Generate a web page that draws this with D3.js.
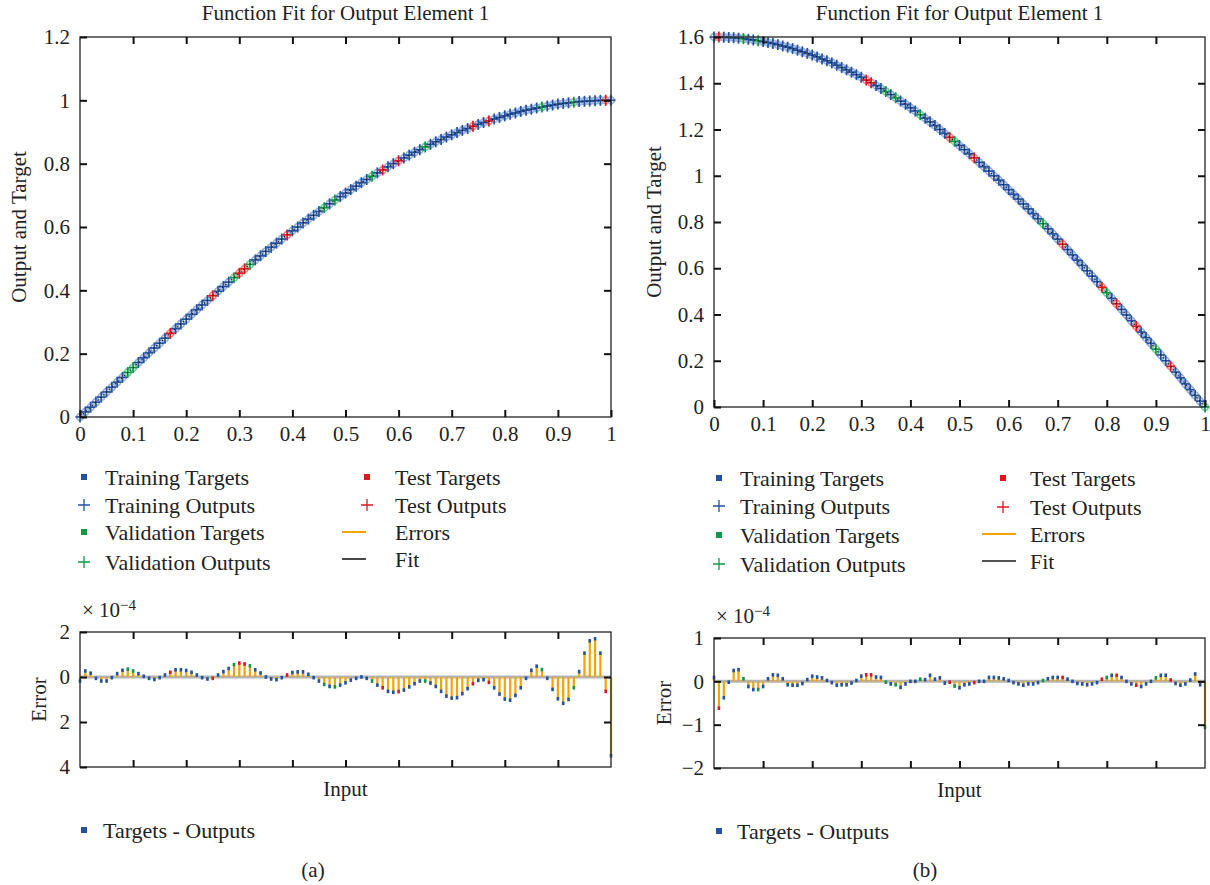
<!DOCTYPE html>
<html>
<head>
<meta charset="utf-8">
<title>Function Fit for Output Element 1</title>
<style>
    body { margin: 0; background: #fff; }
    svg text { font-family: "Liberation Serif", "DejaVu Serif", serif; fill: #222; }
    .tick line { stroke: #111; stroke-width: 2px; }
    .box { fill: none; stroke: #333; stroke-width: 1.4px; }
</style>
</head>
<body>
<svg id="chart" width="1210" height="885"></svg>
<script src="https://cdnjs.cloudflare.com/ajax/libs/d3/7.8.5/d3.min.js"></script>
<script>
// input grid (both panels)
var inputs = [0,0.01,0.02,0.03,0.04,0.05,0.06,0.07,0.08,0.09,0.1,0.11,0.12,0.13,0.14,0.15,0.16,0.17,0.18,0.19,
    0.2,0.21,0.22,0.23,0.24,0.25,0.26,0.27,0.28,0.29,0.3,0.31,0.32,0.33,0.34,0.35,0.36,0.37,0.38,0.39,
    0.4,0.41,0.42,0.43,0.44,0.45,0.46,0.47,0.48,0.49,0.5,0.51,0.52,0.53,0.54,0.55,0.56,0.57,0.58,0.59,
    0.6,0.61,0.62,0.63,0.64,0.65,0.66,0.67,0.68,0.69,0.7,0.71,0.72,0.73,0.74,0.75,0.76,0.77,0.78,0.79,
    0.8,0.81,0.82,0.83,0.84,0.85,0.86,0.87,0.88,0.89,0.9,0.91,0.92,0.93,0.94,0.95,0.96,0.97,0.98,0.99,1];

// panel (a) targets
var targetsA = [0.000,0.016,0.031,0.047,0.063,0.079,0.094,0.110,0.125,0.141,0.156,0.172,0.187,0.203,0.218,0.233,0.249,0.264,0.279,0.294,
    0.309,0.324,0.339,0.354,0.368,0.383,0.397,0.412,0.426,0.440,0.454,0.468,0.482,0.496,0.509,0.523,0.536,0.549,0.562,0.575,
    0.588,0.600,0.613,0.625,0.637,0.649,0.661,0.673,0.685,0.696,0.707,0.718,0.729,0.740,0.750,0.760,0.771,0.780,0.790,0.800,
    0.809,0.818,0.827,0.836,0.844,0.853,0.861,0.869,0.876,0.884,0.891,0.898,0.905,0.911,0.918,0.924,0.930,0.935,0.941,0.946,
    0.951,0.956,0.960,0.965,0.969,0.972,0.976,0.979,0.982,0.985,0.988,0.990,0.992,0.994,0.996,0.997,0.998,0.999,1.000,1.000,1.000];

// panel (b) targets
var targetsB = [1.600,1.600,1.599,1.598,1.597,1.595,1.593,1.590,1.587,1.584,1.580,1.576,1.572,1.567,1.561,1.556,1.550,1.543,1.536,1.529,
    1.522,1.514,1.505,1.497,1.488,1.478,1.468,1.458,1.448,1.437,1.426,1.414,1.402,1.390,1.377,1.364,1.351,1.337,1.323,1.309,
    1.294,1.280,1.264,1.249,1.233,1.217,1.200,1.183,1.166,1.149,1.131,1.113,1.095,1.077,1.058,1.039,1.020,1.000,0.981,0.961,
    0.940,0.920,0.899,0.878,0.857,0.836,0.814,0.793,0.771,0.749,0.726,0.704,0.681,0.658,0.635,0.612,0.589,0.566,0.542,0.518,
    0.494,0.470,0.446,0.422,0.398,0.373,0.349,0.324,0.300,0.275,0.250,0.225,0.200,0.176,0.151,0.126,0.100,0.075,0.050,0.025,0.000];

// errors = targets - outputs, in units of 1e-4
var errorsA = [-0.18,0.27,0.17,-0.06,-0.18,-0.18,-0.03,0.15,0.30,0.35,0.27,0.15,0.03,-0.06,-0.11,-0.03,0.09,0.21,0.32,0.32,
    0.29,0.21,0.09,-0.03,-0.09,-0.06,0.09,0.24,0.38,0.55,0.62,0.58,0.50,0.32,0.18,0.00,-0.09,-0.12,-0.03,0.09,
    0.20,0.23,0.23,0.12,-0.03,-0.18,-0.33,-0.42,-0.44,-0.36,-0.26,-0.14,-0.06,0.00,-0.06,-0.18,-0.36,-0.48,-0.64,-0.68,
    -0.65,-0.58,-0.44,-0.30,-0.18,-0.18,-0.27,-0.42,-0.64,-0.85,-0.94,-0.92,-0.74,-0.52,-0.30,-0.15,-0.12,-0.24,-0.48,-0.76,
    -0.98,-1.03,-0.82,-0.48,-0.06,0.30,0.48,0.33,-0.06,-0.55,-0.97,-1.17,-1.00,-0.48,0.24,1.06,1.61,1.70,1.06,-0.64,-3.50];

var errorsB = [0.09,-0.62,-0.38,-0.02,0.25,0.27,0.06,-0.12,-0.19,-0.19,-0.12,0.06,0.15,0.14,0.06,-0.08,-0.09,-0.09,-0.05,0.04,
    0.12,0.10,0.08,0.02,-0.03,-0.09,-0.08,-0.08,-0.04,0.02,0.12,0.15,0.15,0.10,0.09,-0.02,-0.06,-0.08,-0.14,-0.06,
    0.00,0.00,0.05,0.04,0.14,0.05,0.08,-0.04,-0.02,-0.11,-0.15,-0.08,-0.06,-0.03,0.00,0.00,0.09,0.09,0.08,0.06,
    0.02,-0.03,-0.06,-0.09,-0.06,-0.06,-0.03,0.02,0.06,0.09,0.09,0.09,0.05,0.00,-0.05,-0.06,-0.08,-0.06,-0.03,0.05,
    0.09,0.14,0.14,0.09,0.00,-0.06,-0.09,-0.12,-0.06,0.00,0.08,0.14,0.14,0.03,-0.05,-0.09,-0.06,0.03,0.17,-0.08,-1.06];

// which points belong to the validation / test sets (indices into inputs)
var valIdxA = [9,10,29,32,46,48,55,65,87,93];
var testIdxA = [17,25,30,31,39,57,60,74,77,99];
var valIdxB = [6,9,35,37,42,49,67,80,90,100];
var testIdxB = [1,31,32,48,53,71,79,82,86,93];

var fitTicksA = [0,0.2,0.4,0.6,0.8,1,1.2];
var fitTicksB = [0,0.2,0.4,0.6,0.8,1,1.2,1.4,1.6];
var xTicks = [0,0.1,0.2,0.3,0.4,0.5,0.6,0.7,0.8,0.9,1];
var errTicksA = [2,0,-2,-4];
var errTicksB = [1,0,-1,-2];

var legendLeft = ["Training Targets","Training Outputs","Validation Targets","Validation Outputs"];
var legendRight = ["Test Targets","Test Outputs","Errors","Fit"];

var colors = { train: "#2352a3", val: "#0c9a48", test: "#e0161e", error: "#f5a300", fit: "#1a1a1a", targetRing: "#9db2dc" };
var FS = "21px", LFS = "22px";

var svg = d3.select("#chart");

function drawPanel(p) {
    var cat = p.inputs.map(function (d, i) {
        if (p.valIdx.indexOf(i) >= 0) return "val";
        if (p.testIdx.indexOf(i) >= 0) return "test";
        return "train";
    });
    var pts = p.inputs.map(function (d, i) {
        return { x: d, t: p.targets[i], o: p.targets[i] - p.errors[i] * 1e-4, e: p.errors[i], c: cat[i] };
    });

    var x = d3.scaleLinear().domain([0, 1]).range([p.x0, p.x1]);
    var y = d3.scaleLinear().domain(d3.extent(p.fitTicks)).range([p.fitBottom, p.fitTop]);
    var ye = d3.scaleLinear().domain(d3.extent(p.errTicks)).range([p.errBottom, p.errTop]);

    // ---------- top: function fit ----------
    var g = svg.append("g");

    g.append("text")
        .attr("x", (p.x0 + p.x1) / 2).attr("y", 20)
        .attr("text-anchor", "middle").attr("font-size", FS)
        .text("Function Fit for Output Element 1");

    // targets (open rings)
    g.append("g").selectAll("circle")
        .data(pts).enter().append("circle")
        .attr("cx", function (d) { return x(d.x); })
        .attr("cy", function (d) { return y(d.t); })
        .attr("r", 3.4)
        .attr("fill", "none")
        .attr("stroke", function (d) { return d.c === "train" ? colors.targetRing : (d.c === "val" ? "#7fcf9e" : "#f08a8d"); })
        .attr("stroke-width", 1.8);

    // outputs (+)
    var pl = g.append("g").selectAll("g.plus")
        .data(pts).enter().append("g")
        .attr("transform", function (d) { return "translate(" + x(d.x) + "," + y(d.o) + ")"; })
        .attr("stroke", function (d) { return colors[d.c]; })
        .attr("stroke-width", 1.7);
    pl.append("line").attr("x1", -4.5).attr("x2", 4.5).attr("y1", 0).attr("y2", 0);
    pl.append("line").attr("x1", 0).attr("x2", 0).attr("y1", -5.5).attr("y2", 5.5);

    // fit line
    g.append("path")
        .datum(pts)
        .attr("fill", "none")
        .attr("stroke", colors.fit)
        .attr("stroke-width", 1.1)
        .attr("stroke-dasharray", "1.5,2.5")
        .attr("d", d3.line().x(function (d) { return x(d.x); }).y(function (d) { return y(d.o); }));

    g.append("rect").attr("class", "box")
        .attr("x", p.x0).attr("y", p.fitTop)
        .attr("width", p.x1 - p.x0).attr("height", p.fitBottom - p.fitTop);

    var fmt = function (d) { return d3.format("~g")(d); };
    var axB = g.append("g").attr("transform", "translate(0," + p.fitBottom + ")")
        .call(d3.axisBottom(x).tickValues(p.xTicks).tickSize(-7).tickPadding(9).tickFormat(fmt));
    var axL = g.append("g").attr("transform", "translate(" + p.x0 + ",0)")
        .call(d3.axisLeft(y).tickValues(p.fitTicks).tickSize(-7).tickPadding(10).tickFormat(fmt));
    var axT = g.append("g").attr("transform", "translate(0," + p.fitTop + ")")
        .call(d3.axisTop(x).tickValues(p.xTicks.slice(1, -1)).tickSize(-7).tickFormat(""));
    var axR = g.append("g").attr("transform", "translate(" + p.x1 + ",0)")
        .call(d3.axisRight(y).tickValues(p.fitTicks.slice(1, -1)).tickSize(-7).tickFormat(""));
    [axB, axL, axT, axR].forEach(function (a) {
        a.select(".domain").remove();
        a.selectAll("text").attr("font-size", FS).attr("font-family", null);
    });

    g.append("text")
        .attr("transform", "translate(" + p.yLabelX + "," + ((p.fitTop + p.fitBottom) / 2) + ") rotate(-90)")
        .attr("text-anchor", "middle").attr("font-size", FS)
        .text("Output and Target");

    // ---------- legend ----------
    var lg = svg.append("g");
    var rowsL = legendLeft.map(function (t, i) { return { t: t, y: p.legY[i] }; });
    var rowsR = legendRight.map(function (t, i) { return { t: t, y: p.legYR[i] }; });
    lg.selectAll("text.l").data(rowsL).enter().append("text")
        .attr("x", p.legTextX).attr("y", function (d) { return d.y; }).attr("dy", "0.35em")
        .attr("font-size", LFS).text(function (d) { return d.t; });
    lg.selectAll("text.r").data(rowsR).enter().append("text")
        .attr("x", p.legTextXR).attr("y", function (d) { return d.y; }).attr("dy", "0.35em")
        .attr("font-size", LFS).text(function (d) { return d.t; });

    function square(cx, cy, col) {
        lg.append("rect").attr("x", cx - 3).attr("y", cy - 3).attr("width", 6).attr("height", 6).attr("fill", col);
    }
    function plus(cx, cy, col) {
        lg.append("path").attr("d", "M" + (cx - 6) + "," + cy + "h12M" + cx + "," + (cy - 6) + "v12")
            .attr("stroke", col).attr("stroke-width", 1.3).attr("fill", "none");
    }
    square(p.legMarkX, p.legY[0], colors.train);
    plus(p.legMarkX, p.legY[1], colors.train);
    square(p.legMarkX, p.legY[2], colors.val);
    plus(p.legMarkX, p.legY[3], colors.val);
    square(p.legMarkXR, p.legYR[0], colors.test);
    plus(p.legMarkXR, p.legYR[1], colors.test);
    lg.append("line").attr("x1", p.legLine[0]).attr("x2", p.legLine[1])
        .attr("y1", p.legYR[2]).attr("y2", p.legYR[2]).attr("stroke", colors.error).attr("stroke-width", 2);
    lg.append("line").attr("x1", p.legLine[0]).attr("x2", p.legLine[1])
        .attr("y1", p.legYR[3]).attr("y2", p.legYR[3]).attr("stroke", colors.fit).attr("stroke-width", 1.6);

    // ---------- bottom: error plot ----------
    var ge = svg.append("g");
    ge.append("line")
        .attr("x1", p.x0).attr("x2", p.x1).attr("y1", ye(0)).attr("y2", ye(0))
        .attr("stroke", "#b4b4b4").attr("stroke-width", 3);

    ge.append("g").selectAll("line")
        .data(pts).enter().append("line")
        .attr("x1", function (d) { return x(d.x); }).attr("x2", function (d) { return x(d.x); })
        .attr("y1", ye(0)).attr("y2", function (d) { return ye(d.e); })
        .attr("stroke", colors.error).attr("stroke-width", 2.2);

    ge.append("g").selectAll("rect")
        .data(pts).enter().append("rect")
        .attr("x", function (d) { return x(d.x) - 1.3; })
        .attr("y", function (d) { return ye(d.e) - 1.8; })
        .attr("width", 2.6).attr("height", 3.6)
        .attr("fill", function (d) { return colors[d.c]; });

    ge.append("rect").attr("class", "box")
        .attr("x", p.x0).attr("y", p.errTop)
        .attr("width", p.x1 - p.x0).attr("height", p.errBottom - p.errTop);

    var eB = ge.append("g").attr("transform", "translate(0," + p.errBottom + ")")
        .call(d3.axisBottom(x).tickValues(p.xTicks.slice(1, -1)).tickSize(-7).tickFormat(""));
    var eT = ge.append("g").attr("transform", "translate(0," + p.errTop + ")")
        .call(d3.axisTop(x).tickValues(p.xTicks.slice(1, -1)).tickSize(-7).tickFormat(""));
    var eL = ge.append("g").attr("transform", "translate(" + p.x0 + ",0)")
        .call(d3.axisLeft(ye).tickValues(p.errTicks).tickSize(-7).tickPadding(10).tickFormat(p.errFormat));
    var eR = ge.append("g").attr("transform", "translate(" + p.x1 + ",0)")
        .call(d3.axisRight(ye).tickValues(p.errTicks.slice(1, -1)).tickSize(-7).tickFormat(""));
    [eB, eT, eL, eR].forEach(function (a) {
        a.select(".domain").remove();
        a.selectAll("text").attr("font-size", FS).attr("font-family", null);
    });

    var sc = ge.append("text").attr("x", p.x0 + 2).attr("y", p.errTop - 15).attr("font-size", FS);
    sc.append("tspan").text("\u00d7 10");
    sc.append("tspan").attr("dy", "-0.45em").attr("font-size", "15px").text("\u22124");

    ge.append("text")
        .attr("transform", "translate(" + p.errLabelX + "," + ((p.errTop + p.errBottom) / 2) + ") rotate(-90)")
        .attr("text-anchor", "middle").attr("font-size", FS)
        .text("Error");

    ge.append("text")
        .attr("x", (p.x0 + p.x1) / 2).attr("y", p.errBottom + 22).attr("dy", "0.35em")
        .attr("text-anchor", "middle").attr("font-size", FS)
        .text("Input");

    square(p.legMarkX, p.errLegY, colors.train);
    ge.append("text")
        .attr("x", p.errLegTextX).attr("y", p.errLegY).attr("dy", "0.35em")
        .attr("font-size", LFS).text("Targets - Outputs");

    svg.append("text")
        .attr("x", p.captionX).attr("y", 870).attr("dy", "0.35em")
        .attr("text-anchor", "middle").attr("font-size", FS)
        .text(p.caption);
}

drawPanel({
    inputs: inputs, targets: targetsA, errors: errorsA, valIdx: valIdxA, testIdx: testIdxA,
    fitTicks: fitTicksA, xTicks: xTicks, errTicks: errTicksA,
    errFormat: function (d) { return String(Math.abs(d)); },
    x0: 80, x1: 611, fitTop: 37, fitBottom: 417, errTop: 632, errBottom: 767,
    yLabelX: 26, errLabelX: 46,
    legMarkX: 84, legTextX: 105, legY: [477, 505, 532, 562],
    legMarkXR: 367, legTextXR: 395, legYR: [477, 505, 532, 559], legLine: [342, 366],
    errLegY: 830, errLegTextX: 103, captionX: 313, caption: "(a)"
});

drawPanel({
    inputs: inputs, targets: targetsB, errors: errorsB, valIdx: valIdxB, testIdx: testIdxB,
    fitTicks: fitTicksB, xTicks: xTicks, errTicks: errTicksB,
    errFormat: d3.format("~g"),
    x0: 714, x1: 1205, fitTop: 37, fitBottom: 407, errTop: 638, errBottom: 768,
    yLabelX: 661, errLabelX: 671,
    legMarkX: 719, legTextX: 740, legY: [478, 506, 535, 564],
    legMarkXR: 1003, legTextXR: 1030, legYR: [478, 507, 534, 561], legLine: [982, 1016],
    errLegY: 831, errLegTextX: 737, captionX: 925, caption: "(b)"
});
</script>
</body>
</html>
